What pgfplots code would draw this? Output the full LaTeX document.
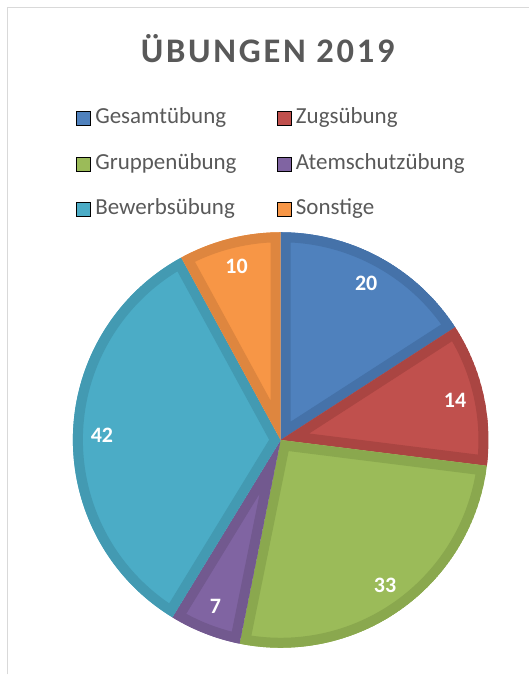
\documentclass[border=0pt]{standalone}
\usepackage{pgfplots}
\pgfplotsset{compat=1.18}
\usepackage{pgfplotstable}
\usepackage{fontspec}
\setmainfont{Carlito}
\definecolor{fill0}{HTML}{4F81BD}\definecolor{dark0}{HTML}{4572A9}
\definecolor{fill1}{HTML}{C0504D}\definecolor{dark1}{HTML}{AA4542}
\definecolor{fill2}{HTML}{9BBB59}\definecolor{dark2}{HTML}{8AA84E}
\definecolor{fill3}{HTML}{8064A2}\definecolor{dark3}{HTML}{72598F}
\definecolor{fill4}{HTML}{4BACC6}\definecolor{dark4}{HTML}{439AB2}
\definecolor{fill5}{HTML}{F79646}\definecolor{dark5}{HTML}{DE863F}
\definecolor{txtgray}{HTML}{595959}
\definecolor{framegray}{HTML}{D9D9D9}

\pgfplotstableread{
label value
Gesamtübung 20
Zugsübung 14
Gruppenübung 33
Atemschutzübung 7
Bewerbsübung 42
Sonstige 10
}\piedata

% total
\xdef\pietotal{0}
\foreach \i in {0,...,5}{%
  \pgfplotstablegetelem{\i}{value}\of\piedata
  \pgfmathsetmacro\tmp{\pietotal+\pgfplotsretval}%
  \xdef\pietotal{\tmp}%
}
% angles (start at 12 o'clock, clockwise)
\xdef\piecum{90}
\foreach \i in {0,...,5}{%
  \pgfplotstablegetelem{\i}{value}\of\piedata
  \pgfmathsetmacro\tmpe{\piecum-\pgfplotsretval/\pietotal*360}%
  \pgfmathsetmacro\tmpm{(\piecum+\tmpe)/2}%
  \expandafter\xdef\csname sA\i\endcsname{\piecum}%
  \expandafter\xdef\csname eA\i\endcsname{\tmpe}%
  \expandafter\xdef\csname mA\i\endcsname{\tmpm}%
  \expandafter\xdef\csname vA\i\endcsname{\pgfplotsretval}%
  \xdef\piecum{\tmpe}%
}

\begin{document}
\begin{tikzpicture}
\begin{axis}[
  hide axis, scale only axis, width=530pt, height=675pt,
  xmin=0, xmax=530, ymin=0, ymax=675, clip=false,
  legend columns=2,
  legend cell align=left,
  legend image code/.code={\fill[#1] (0pt,-7pt) rectangle (14pt,7pt);},
  legend style={
    at={(axis description cs:0.1434,0.840)}, anchor=north west,
    draw=none, fill=none, inner sep=0pt, outer sep=0pt,
    font=\fontsize{23}{27}\selectfont, text=txtgray,
    row sep=24.5pt,
    nodes={inner sep=0pt, text height=16pt, text depth=5pt},
    /tikz/every odd column/.append style={column sep=5pt},
    /tikz/every even column/.append style={column sep=40pt},
  },
]
\path (axis cs:0,0) rectangle (axis cs:530,675);
\draw[framegray, line width=1.5pt] (axis cs:7.5,0) -- (axis cs:7.5,667.5) -- (axis cs:530,667.5);
\node[anchor=base, text=txtgray, font=\bfseries\fontsize{34.5}{40}\selectfont\addfontfeatures{LetterSpace=8}] at (axis cs:268,612) {ÜBUNGEN 2019};

\addlegendimage{fill=fill0}\addlegendentry{Gesamtübung}
\addlegendimage{fill=fill1}\addlegendentry{Zugsübung}
\addlegendimage{fill=fill2}\addlegendentry{Gruppenübung}
\addlegendimage{fill=fill3}\addlegendentry{Atemschutzübung}
\addlegendimage{fill=fill4}\addlegendentry{Bewerbsübung}
\addlegendimage{fill=fill5}\addlegendentry{Sonstige}

\pgfplotsextra{
  \coordinate (C) at (axis cs:281,234.5);
  \foreach \i in {0,...,5}{
    \edef\s{\csname sA\i\endcsname}\edef\e{\csname eA\i\endcsname}\edef\m{\csname mA\i\endcsname}
    \begin{scope}
      \clip (C) -- ([shift={(\s:208pt)}]C) arc[start angle=\s, end angle=\e, radius=208pt] -- cycle;
      \fill[fill\i] (C) -- ([shift={(\s:208pt)}]C) arc[start angle=\s, end angle=\e, radius=208pt] -- cycle;
      \draw[dark\i, line width=20pt, line join=miter] (C) -- ([shift={(\s:208pt)}]C) arc[start angle=\s, end angle=\e, radius=208pt] -- cycle;
    \end{scope}
  }
  \foreach \i in {0,...,5}{
    \edef\m{\csname mA\i\endcsname}
    \node[text=white, font=\bfseries\fontsize{22}{26}\selectfont] at ([shift={(\m:179pt)}]C) {\csname vA\i\endcsname};
  }
}
\end{axis}
\end{tikzpicture}
\end{document}
